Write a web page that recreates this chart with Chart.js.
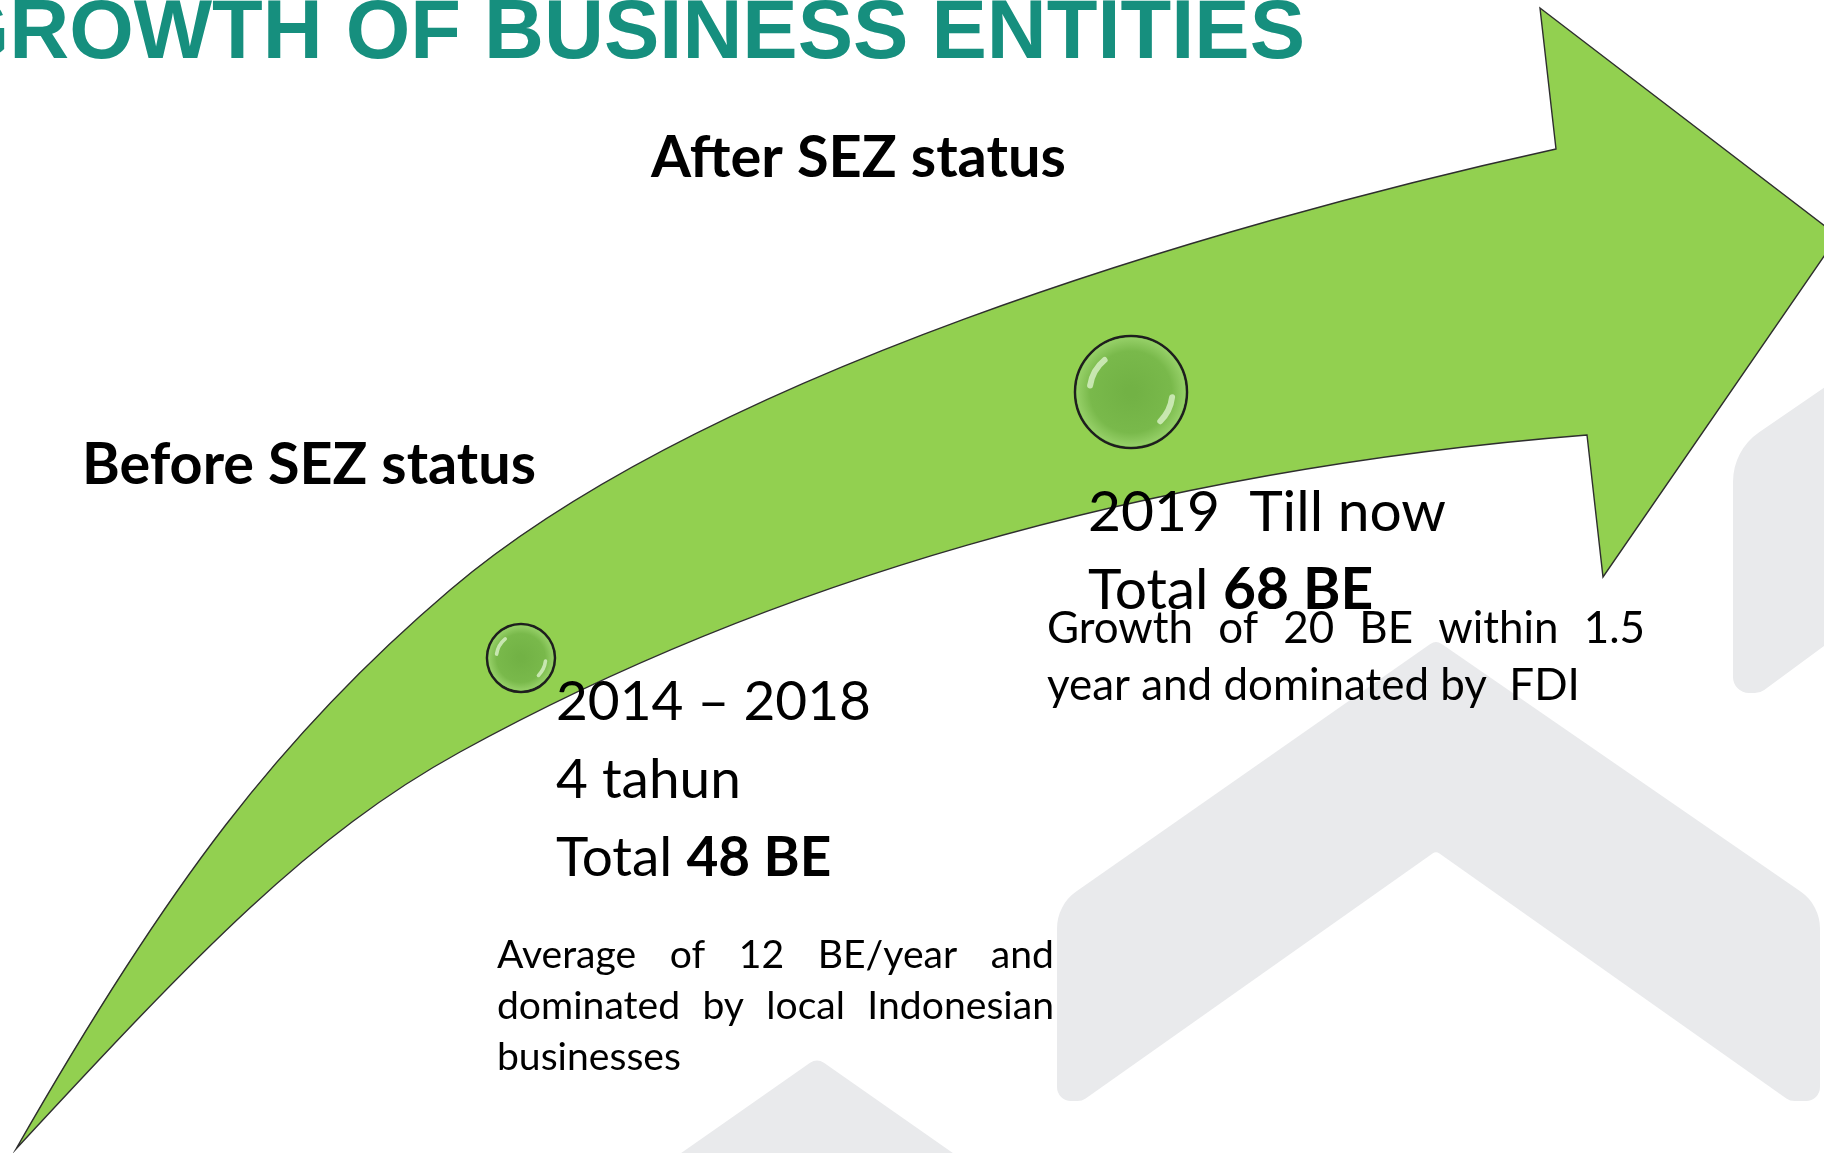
<!DOCTYPE html>
<html>
<head>
<meta charset="utf-8">
<title>Growth of Business Entities</title>
<script src="https://cdn.jsdelivr.net/npm/chart.js@4.4.1/dist/chart.umd.min.js"></script>
<style>
  html, body { margin: 0; padding: 0; background: #ffffff; }
  canvas { display: block; }
</style>
</head>
<body>
<canvas id="chart" width="1824" height="1153"></canvas>
<script>
// ---- data ----
const title = 'GROWTH OF BUSINESS ENTITIES';
const phases = ['Before SEZ status', 'After SEZ status'];
const periods = ['2014 – 2018', '2019  Till now'];
const startYears = [2014, 2019];
const durations = ['4 tahun', ''];
const totals = [48, 68];
const notes = [
    ['Average of 12 BE/year and', 'dominated by local Indonesian', 'businesses'],
    ['Growth of 20 BE within 1.5', 'year and dominated by  FDI']
];

// ---- styles / layout ----
const green = '#92d050';
const teal = '#168f7e';
const grey = '#e9eaec';
const bodyFont = 'Lato';
const bubbleRadius = [34, 56];
const labelPos = [{dx: 35, dy: 62, w: 315}, {dx: -43, dy: 139, w: 358}];
const notePos = [
    {dx: -24, dy: 310, w: 557, fit: 184, lh: 51},
    {dx: -84, dy: 251, w: 598, fit: 533, lh: 57}
];
const phasePos = [{x: 82, y: 484, w: 454}, {x: 651, y: 177, w: 415}];

// arrow outline (decoration): chains of cubic bezier segments
const upperEdge = [[16,1149],[166,886.5],[280,734.5],[450,590],[700,377.5],[1206,226],[1556,149]];
const arrowHead = [[1540,8],[1838,236],[1603,577],[1587,435]];
const lowerEdge = [[1587,435],[1137,471],[760,587],[460,752],[310,834.5],[196,954.6],[16,1149]];

// watermark chevrons (decoration): [x, y, corner radius]
const chevrons = [
    [[817,1058,12],[1010,1193,0],[624,1193,0]],
    [[1436,640,10],[1820,905,45],[1820,1101,14],[1790,1101,14],[1436,851,6],
     [1082,1101,14],[1057,1101,14],[1057,905,45]],
    [[1850,370,0],[1733,450,60],[1733,693,16],[1760,693,16],[1850,627,0]]
];

function fitSize(ctx, text, weight, family, width) {
    ctx.font = weight + ' 100px ' + family;
    return 100 * width / ctx.measureText(text).width;
}

function bezierChain(ctx, pts) {
    for (let i = 1; i + 2 < pts.length; i += 3) {
        ctx.bezierCurveTo(pts[i][0], pts[i][1], pts[i + 1][0], pts[i + 1][1], pts[i + 2][0], pts[i + 2][1]);
    }
}

function roundedPoly(ctx, pts) {
    const n = pts.length;
    ctx.beginPath();
    ctx.moveTo((pts[0][0] + pts[n - 1][0]) / 2, (pts[0][1] + pts[n - 1][1]) / 2);
    for (let i = 0; i < n; i++) {
        const p = pts[i], q = pts[(i + 1) % n];
        ctx.arcTo(p[0], p[1], q[0], q[1], p[2]);
    }
    ctx.closePath();
}

function justify(ctx, line, x, y, width) {
    const words = line.split(/\s+/);
    const used = words.reduce((s, w) => s + ctx.measureText(w).width, 0);
    const gap = (width - used) / (words.length - 1);
    let cx = x;
    words.forEach(w => {
        ctx.fillText(w, cx, y);
        cx += ctx.measureText(w).width + gap;
    });
}

const backdrop = {
    id: 'backdrop',
    beforeDraw(chart) {
        const ctx = chart.ctx;
        ctx.save();
        ctx.fillStyle = '#ffffff';
        ctx.fillRect(0, 0, chart.width, chart.height);
        ctx.fillStyle = grey;
        chevrons.forEach(poly => {
            roundedPoly(ctx, poly);
            ctx.fill();
        });
        ctx.restore();
    }
};

const arrow = {
    id: 'arrow',
    beforeDatasetsDraw(chart) {
        const ctx = chart.ctx;
        ctx.save();
        ctx.beginPath();
        ctx.moveTo(upperEdge[0][0], upperEdge[0][1]);
        bezierChain(ctx, upperEdge);
        arrowHead.forEach(p => ctx.lineTo(p[0], p[1]));
        bezierChain(ctx, lowerEdge);
        ctx.closePath();
        ctx.fillStyle = green;
        ctx.fill();
        ctx.strokeStyle = '#2e2e2e';
        ctx.lineWidth = 1.4;
        ctx.lineJoin = 'miter';
        ctx.stroke();
        ctx.restore();
    }
};

const labels = {
    id: 'labels',
    afterDatasetsDraw(chart) {
        const ctx = chart.ctx;
        const meta = chart.getDatasetMeta(0);
        ctx.save();

        // glossy milestone circles
        meta.data.forEach(pt => {
            const r = pt.options.radius - 1.5;
            const g = ctx.createRadialGradient(pt.x, pt.y, r * 0.1, pt.x, pt.y, r);
            g.addColorStop(0, '#72b245');
            g.addColorStop(0.72, '#79b94b');
            g.addColorStop(1, '#96d068');
            ctx.beginPath();
            ctx.arc(pt.x, pt.y, r, 0, Math.PI * 2);
            ctx.fillStyle = g;
            ctx.fill();
            ctx.strokeStyle = 'rgba(225,246,210,0.75)';
            ctx.lineCap = 'round';
            ctx.lineWidth = r * 0.11;
            ctx.beginPath();
            ctx.arc(pt.x, pt.y, r * 0.76, Math.PI * 1.05, Math.PI * 1.28);
            ctx.stroke();
            ctx.beginPath();
            ctx.arc(pt.x, pt.y, r * 0.76, Math.PI * 0.04, Math.PI * 0.25);
            ctx.stroke();
        });

        ctx.fillStyle = '#000000';
        ctx.textBaseline = 'alphabetic';
        ctx.textAlign = 'left';

        meta.data.forEach((pt, i) => {
            // period, duration, total
            const lp = labelPos[i];
            const size = fitSize(ctx, periods[i], 'normal', bodyFont, lp.w);
            const lines = [periods[i]];
            if (durations[i]) lines.push(durations[i]);
            const x = pt.x + lp.dx;
            let y = pt.y + lp.dy;
            ctx.font = 'normal ' + size + 'px ' + bodyFont;
            lines.forEach(l => { ctx.fillText(l, x, y); y += 78; });
            const pre = 'Total ';
            ctx.fillText(pre, x, y);
            const preW = ctx.measureText(pre).width;
            ctx.font = 'bold ' + size + 'px ' + bodyFont;
            ctx.fillText(totals[i] + ' BE', x + preW, y);

            // justified note
            const np = notePos[i];
            const nl = notes[i];
            const ns = fitSize(ctx, nl[nl.length - 1], 'normal', bodyFont, np.fit);
            ctx.font = 'normal ' + ns + 'px ' + bodyFont;
            nl.forEach((l, k) => {
                const ny = pt.y + np.dy + k * np.lh;
                if (k < nl.length - 1) justify(ctx, l, pt.x + np.dx, ny, np.w);
                else ctx.fillText(l, pt.x + np.dx, ny);
            });
        });

        // phase headings
        phases.forEach((p, i) => {
            const pp = phasePos[i];
            const s = fitSize(ctx, p, 'bold', bodyFont, pp.w);
            ctx.font = 'bold ' + s + 'px ' + bodyFont;
            ctx.fillText(p, pp.x, pp.y);
        });

        // title (runs off the top-left edge as in the slide)
        ctx.fillStyle = teal;
        ctx.textAlign = 'right';
        ctx.font = 'bold 83px "Liberation Sans", Arial, sans-serif';
        ctx.fillText(title, 1305, 58);
        ctx.restore();
    }
};

new Chart(document.getElementById('chart'), {
    type: 'bubble',
    data: {
        labels: periods,
        datasets: [{
            label: 'Total business entities',
            data: startYears.map((yr, i) => ({x: yr, y: totals[i]})),
            radius: c => bubbleRadius[c.dataIndex],
            hoverRadius: 0,
            backgroundColor: '#76b84a',
            borderColor: '#1e1e1e',
            borderWidth: 2.5
        }]
    },
    options: {
        responsive: false,
        animation: false,
        events: [],
        layout: { padding: 0, autoPadding: false },
        scales: {
            x: { type: 'linear', display: false, min: 2009.73, max: 2024.68 },
            y: { type: 'linear', display: false, min: 10.78, max: 97.47 }
        },
        plugins: {
            legend: { display: false },
            tooltip: { enabled: false },
            title: { display: false }
        }
    },
    plugins: [backdrop, arrow, labels]
});
</script>
</body>
</html>
